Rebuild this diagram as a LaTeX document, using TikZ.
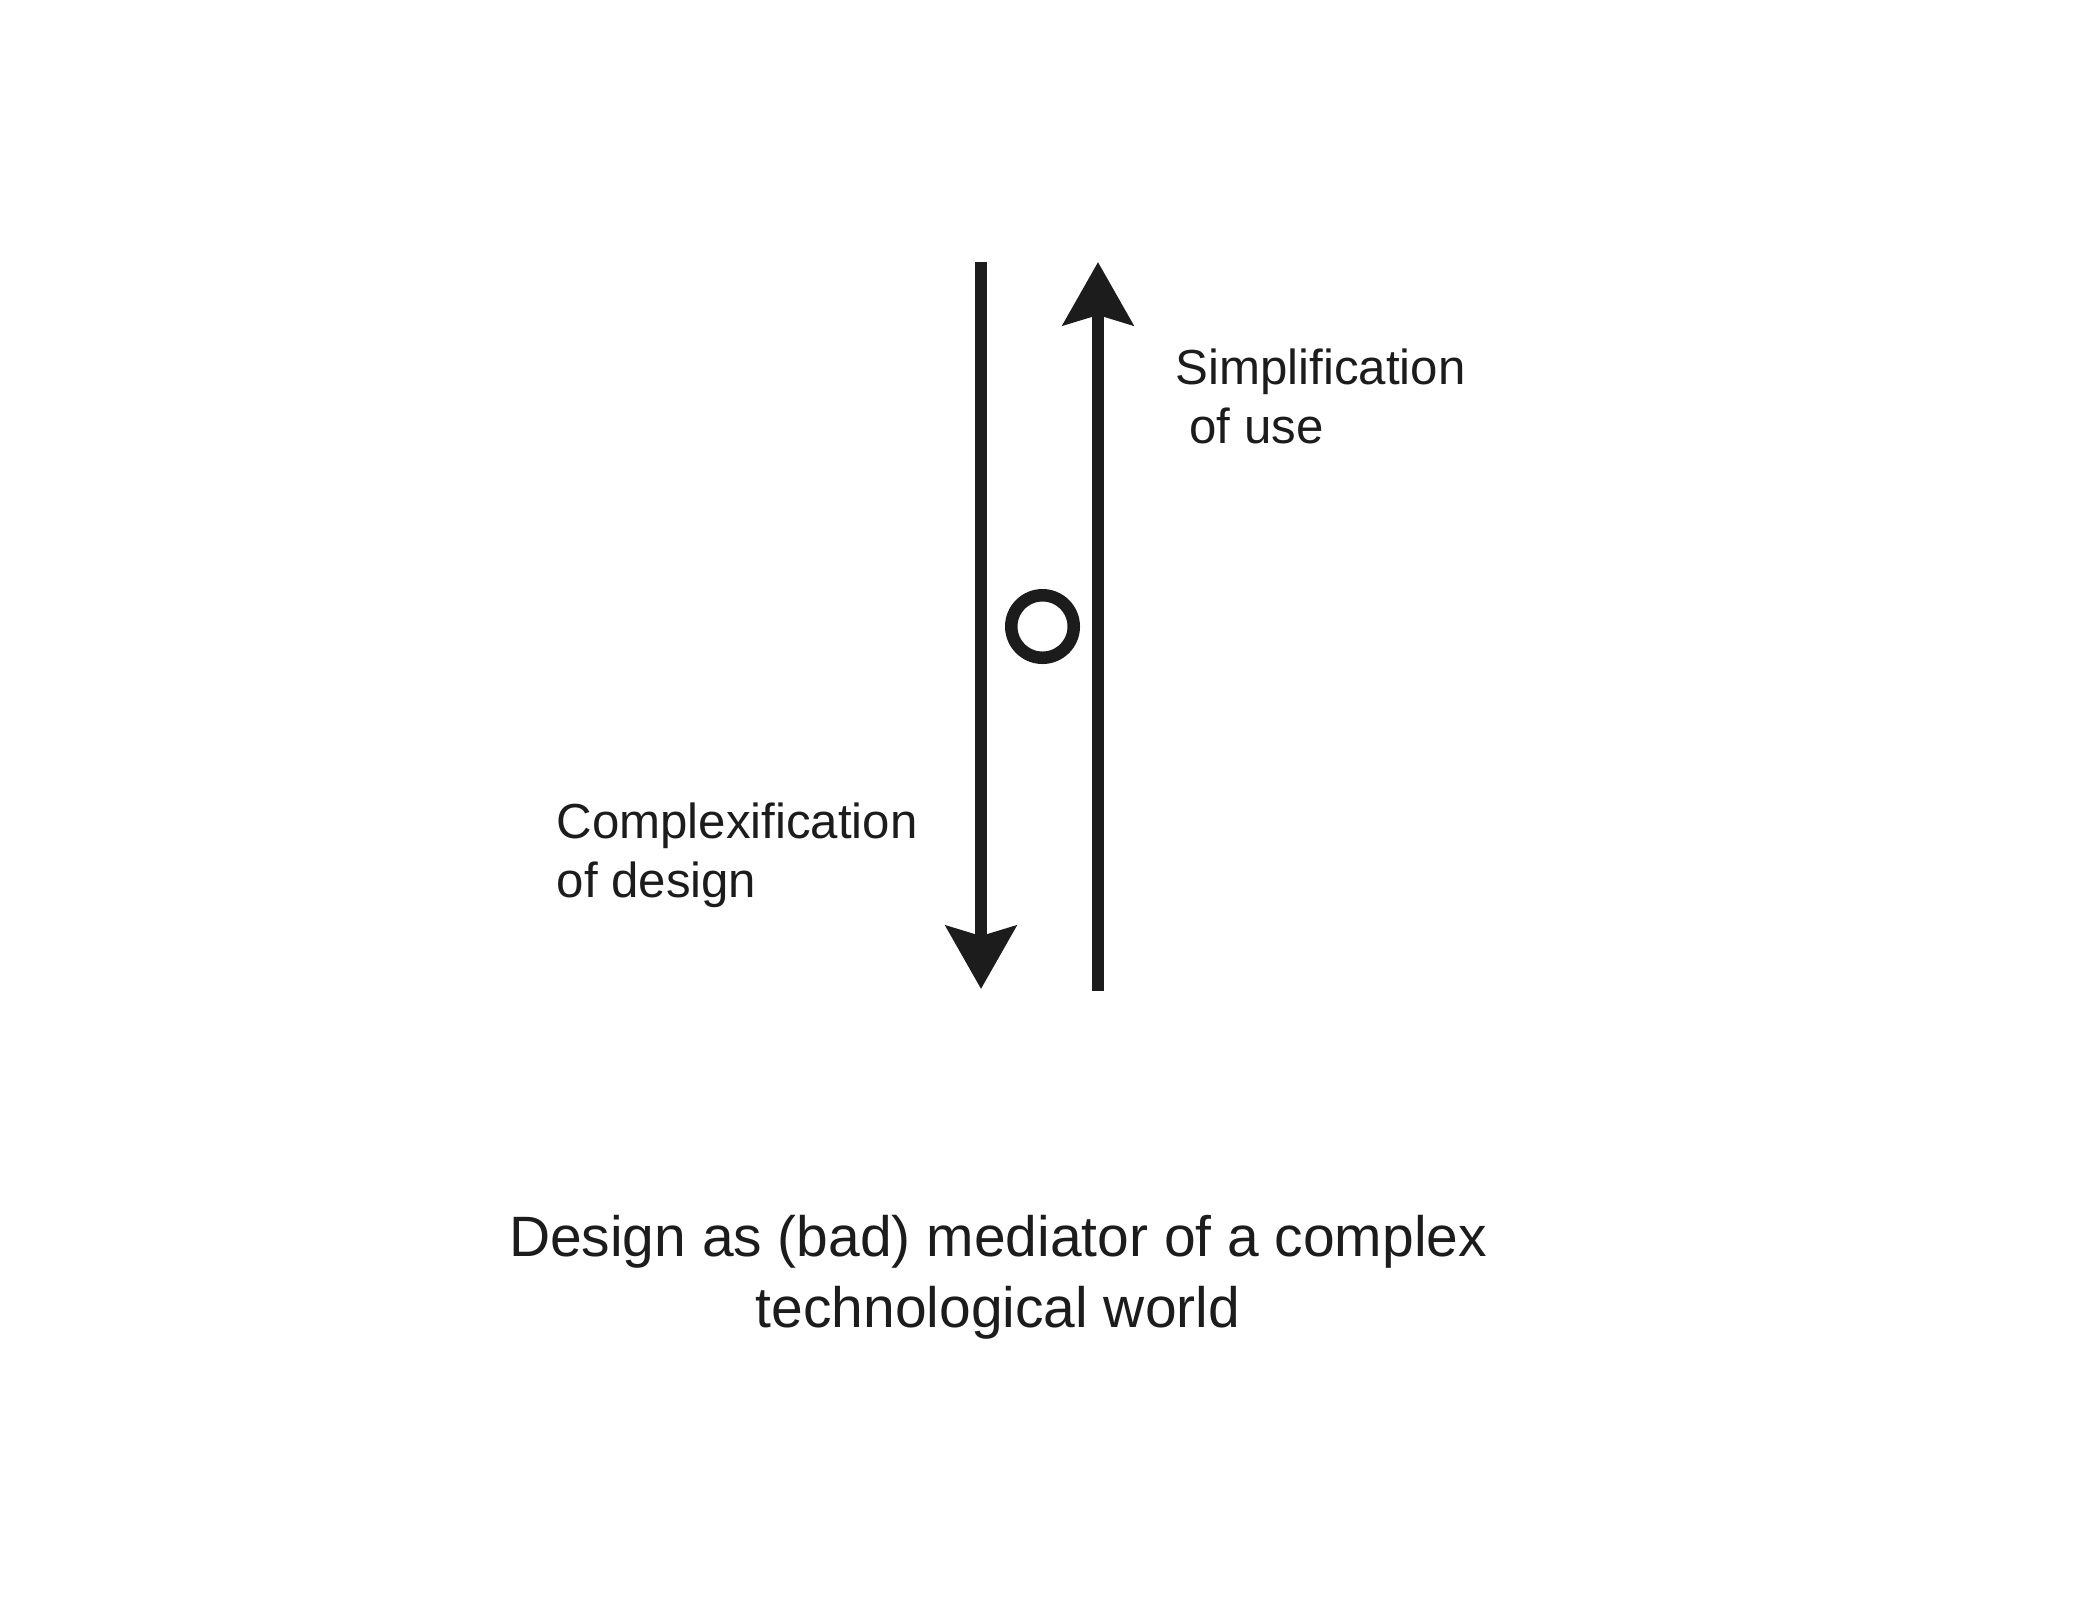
\documentclass[tikz,border=0pt]{standalone}
\usepackage{fontspec}
\setmainfont{Liberation Sans}
\usepackage{tikz}
\usetikzlibrary{arrows.meta}
\definecolor{inkgray}{RGB}{28,28,28}

\begin{document}
\begin{tikzpicture}[>=Stealth,
  flow/.style={inkgray, line width=0.12cm, -{Stealth[length=0.63cm, width=0.70cm, inset=0.1cm]}},
  tag/.style={inkgray, inner sep=0pt, align=left, font=\fontsize{14}{16.6}\selectfont}]
  \useasboundingbox (0,0) rectangle (20.84,-15.98);
  % Complexification of design (down)
  \coordinate (designtop) at (9.81,-2.62);
  \coordinate (designbot) at (9.81,-9.89);
  \draw[flow] (designtop) -- (designbot);
  % Simplification of use (up)
  \coordinate (usebot) at (10.98,-9.91);
  \coordinate (usetop) at (10.98,-2.62);
  \draw[flow] (usebot) -- (usetop);
  % Mediator
  \node[draw=inkgray, circle, line width=0.125cm, minimum size=0.625cm, inner sep=0pt] (mediator) at (10.425,-6.265) {};
  \node[tag, anchor=base west] (simpl) at (11.75,-4.43) {Simplification\\\hspace*{0.28em}of use};
  \node[tag, anchor=base west] (complex) at (5.56,-8.97) {Complexification\\of design};
  % Caption
  \node[inkgray, inner sep=0pt, align=center, anchor=base, font=\fontsize{16.2}{20.2}\selectfont] (caption) at (9.98,-13.27) {Design as (bad) mediator of a complex\\technological world};
\end{tikzpicture}
\end{document}
